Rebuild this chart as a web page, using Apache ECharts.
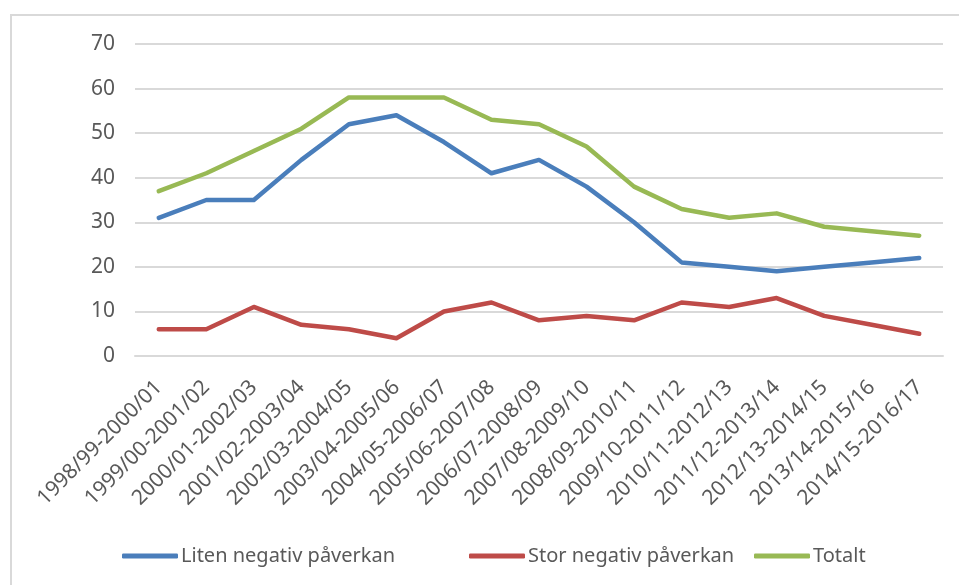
<!DOCTYPE html>
<html>
<head>
<meta charset="utf-8">
<script src="https://cdn.jsdelivr.net/npm/echarts@6/dist/echarts.min.js"></script>
<style>
  html, body { margin: 0; padding: 0; background: #fff; }
  #chart { width: 959px; height: 585px; }
</style>
</head>
<body>
<div id="chart"></div>
<script>
// kategorier (perioder)
var perioder = [
  '1998/99-2000/01', '1999/00-2001/02', '2000/01-2002/03', '2001/02-2003/04',
  '2002/03-2004/05', '2003/04-2005/06', '2004/05-2006/07', '2005/06-2007/08',
  '2006/07-2008/09', '2007/08-2009/10', '2008/09-2010/11', '2009/10-2011/12',
  '2010/11-2012/13', '2011/12-2013/14', '2012/13-2014/15', '2013/14-2015/16',
  '2014/15-2016/17'
];

// serier
var liten = [31, 35, 35, 44, 52, 54, 48, 41, 44, 38, 30, 21, 20, 19, 20, 21, 22];
var stor = [6, 6, 11, 7, 6, 4, 10, 12, 8, 9, 8, 12, 11, 13, 9, 7, 5];
var totalt = [37, 41, 46, 51, 58, 58, 58, 53, 52, 47, 38, 33, 31, 32, 29, 28, 27];

var namn = ['Liten negativ påverkan', 'Stor negativ påverkan', 'Totalt'];
var farger = ['#4A7EBB', '#BE4B48', '#98B954'];

var textFarg = '#595959';
var font = 'Noto Sans';

function serie(i, data) {
  return {
    name: namn[i],
    type: 'line',
    data: data,
    symbol: 'none',
    smooth: false,
    lineStyle: { width: 4.5, color: farger[i], cap: 'round', join: 'round' },
    itemStyle: { color: farger[i] }
  };
}

function legend(i, left) {
  return {
    data: [namn[i]],
    left: left,
    top: 541,
    icon: 'roundRect',
    itemWidth: 56,
    itemHeight: 5,
    itemGap: 4,
    textStyle: { fontFamily: font, fontSize: 20, color: textFarg, padding: [0, 0, 0, -2] }
  };
}

var myChart = echarts.init(document.getElementById('chart'));

var option = {
  animation: false,
  backgroundColor: '#fff',
  graphic: [{
    type: 'rect',
    shape: { x: 11, y: 15, width: 1000, height: 620 },
    style: { fill: 'none', stroke: '#d9d9d9', lineWidth: 2 },
    silent: true
  }],
  grid: { left: 135, right: 16, top: 44, bottom: 229 },
  legend: [legend(0, 117), legend(1, 464), legend(2, 749)],
  xAxis: {
    type: 'category',
    data: perioder,
    boundaryGap: true,
    axisLine: { lineStyle: { color: '#d9d9d9', width: 2 } },
    axisTick: { show: false },
    axisLabel: {
      rotate: 45,
      interval: 0,
      margin: 28,
      fontFamily: font,
      fontSize: 21,
      color: textFarg
    }
  },
  yAxis: {
    type: 'value',
    min: 0,
    max: 70,
    interval: 10,
    axisLine: { show: false },
    axisTick: { show: false },
    splitLine: { lineStyle: { color: '#d9d9d9', width: 2 } },
    axisLabel: { margin: 20, fontFamily: font, fontSize: 21, color: textFarg }
  },
  series: [serie(0, liten), serie(1, stor), serie(2, totalt)]
};

myChart.setOption(option);
</script>
</body>
</html>
